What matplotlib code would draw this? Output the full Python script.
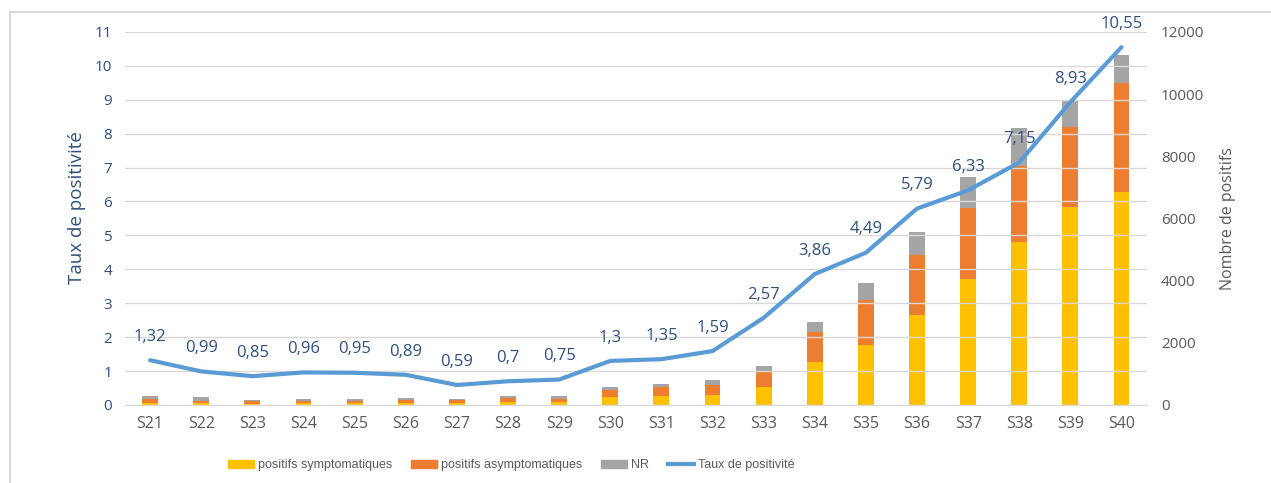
import matplotlib.pyplot as plt
import numpy as np
from matplotlib.lines import Line2D

weeks = ["S21", "S22", "S23", "S24", "S25", "S26", "S27", "S28", "S29", "S30",
         "S31", "S32", "S33", "S34", "S35", "S36", "S37", "S38", "S39", "S40"]
sympto = [75, 75, 43, 54, 54, 64, 54, 107, 107, 247,
          300, 322, 569, 1383, 1930, 2905, 4043, 5233, 6360, 6852]
asympto = [118, 64, 75, 85, 85, 108, 96, 129, 96, 236,
           269, 321, 525, 955, 1448, 1920, 2294, 2467, 2583, 3507]
nr = [107, 108, 43, 54, 54, 53, 43, 43, 77, 86,
      107, 161, 161, 342, 557, 731, 1008, 1211, 847, 911]
taux = [1.32, 0.99, 0.85, 0.96, 0.95, 0.89, 0.59, 0.7, 0.75, 1.3,
        1.35, 1.59, 2.57, 3.86, 4.49, 5.79, 6.33, 7.15, 8.93, 10.55]

c_sym = "#FFC000"
c_asym = "#ED7D31"
c_nr = "#A5A5A5"
c_line = "#5B9BD5"
c_lab = "#2F4F7F"
c_grey = "#595959"

plt.rcParams["font.family"] = ["Open Sans", "DejaVu Sans"]

fig = plt.figure(figsize=(12.71, 4.83), dpi=100)
ax = fig.add_axes([0.098, 0.1615, 0.8045, 0.7725])
ax2 = ax.twinx()

x = np.arange(len(weeks))
sympto = np.array(sympto)
asympto = np.array(asympto)
nr = np.array(nr)

# stacked counts on the right axis
w = 0.31
ax2.bar(x, sympto, w, color=c_sym, zorder=2)
ax2.bar(x, asympto, w, bottom=sympto, color=c_asym, zorder=2)
ax2.bar(x, nr, w, bottom=sympto + asympto, color=c_nr, zorder=2)
ax2.set_ylim(0, 12000)
ax2.set_yticks(range(0, 12001, 2000))
ax2.tick_params(axis="y", length=0, pad=10, labelsize=11, labelcolor=c_grey)
ax2.set_ylabel("Nombre de positifs", fontsize=11.5, color=c_grey, labelpad=11)

# positivity rate on the left axis, drawn above the bars
ax.set_zorder(ax2.get_zorder() + 1)
ax.patch.set_visible(False)
ax.plot(x, taux, color=c_line, lw=3, solid_capstyle="round", zorder=3)
for xi, v in zip(x, taux):
    ax.annotate(f"{v:g}".replace(".", ","), (xi, v), xytext=(0, 11),
                textcoords="offset points", ha="center", va="bottom",
                fontsize=12, color=c_lab)
ax.set_ylim(0, 11)
ax.set_yticks(range(0, 12))
ax.set_xlim(-0.5, len(weeks) - 0.5)
ax.set_xticks(x)
ax.set_xticklabels(weeks)
ax.tick_params(axis="y", length=0, pad=9, labelsize=11, labelcolor=c_lab)
ax.tick_params(axis="x", length=0, pad=8, labelsize=11.5, labelcolor=c_grey)
ax.set_ylabel("Taux de positivité", fontsize=13.5, color=c_lab, labelpad=6)
ax.yaxis.label.set_y(0.53)
ax.yaxis.grid(True, color="#D9D9D9", lw=1)
ax.set_axisbelow(True)

for a in (ax, ax2):
    for s in a.spines.values():
        s.set_visible(False)
ax.spines["bottom"].set_visible(True)
ax.spines["bottom"].set_color("#D9D9D9")

# outer frame
fig.add_artist(Line2D([0.008, 0.008], [0, 0.975], color="#D9D9D9", lw=1.5))
fig.add_artist(Line2D([0.008, 1], [0.975, 0.975], color="#D9D9D9", lw=1.5))

handles = [
    plt.Rectangle((0, 0), 1, 1, color=c_sym),
    plt.Rectangle((0, 0), 1, 1, color=c_asym),
    plt.Rectangle((0, 0), 1, 1, color=c_nr),
    Line2D([0], [0], color=c_line, lw=3),
]
labels = ["positifs symptomatiques", "positifs asymptomatiques", "NR", "Taux de positivité"]
fig.legend(handles, labels, loc="center", bbox_to_anchor=(0.402, 0.037), ncol=4,
           frameon=False, handlelength=2.1, handleheight=0.6, handletextpad=0.3,
           columnspacing=1.5, prop={"family": "Liberation Sans", "size": 9},
           labelcolor=c_grey)

fig.savefig("out.png", dpi=100)
